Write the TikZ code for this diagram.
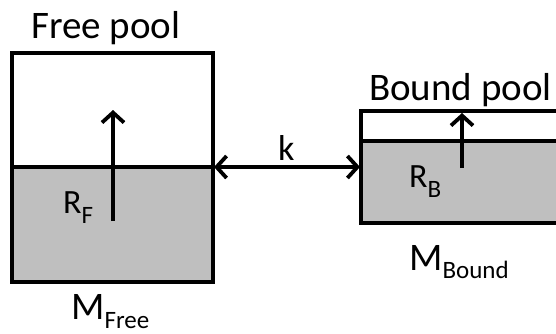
\documentclass[tikz,border=0pt]{standalone}
\usepackage{fontspec}
\setmainfont{Carlito}
\usetikzlibrary{arrows.meta}
\definecolor{poolgrey}{RGB}{191,191,191}
\tikzset{
  outline/.style={line width=3.8pt, line join=miter},
  flow/.style={line width=3.8pt, -{Straight Barb[length=10pt,width=22pt,line width=3.8pt]}},
  exch/.style={line width=3.8pt, {Straight Barb[length=10pt,width=22pt,line width=3.8pt]}-{Straight Barb[length=10pt,width=22pt,line width=3.8pt]}},
  lbl/.style={inner sep=0pt, anchor=base west},
}
\newcommand{\bigtxt}{\fontsize{39}{42}\selectfont}
\newcommand{\midtxt}{\fontsize{34}{36}\selectfont}
\newcommand{\subtxt}{\fontsize{25}{27}\selectfont}
\begin{document}
\begin{tikzpicture}[x=1pt,y=-1pt]
\useasboundingbox (0,0) rectangle (556,333);
\clip (0,0) rectangle (556,333);
% free pool box
\coordinate (fTL) at (12,53);
\coordinate (fBR) at (213,282);
\coordinate (fDivL) at (12,167);
\coordinate (fDivR) at (213,167);
\fill[poolgrey] (fDivL) rectangle (fBR);
\draw[outline] (fTL) rectangle (fBR);
\draw[outline] (fDivL) -- (fDivR);
% bound pool box
\coordinate (bTL) at (361,111);
\coordinate (bBR) at (570,223);
\coordinate (bDivL) at (361,141);
\coordinate (bDivR) at (570,141);
\fill[poolgrey] (bDivL) rectangle (bBR);
\draw[outline] (bTL) rectangle (bBR);
\draw[outline] (bDivL) -- (bDivR);
% arrows
\coordinate (rfS) at (113,221);
\coordinate (rfE) at (113,110);
\draw[flow] (rfS) -- (rfE);
\coordinate (rbS) at (462,168);
\coordinate (rbE) at (462,113);
\draw[flow] (rbS) -- (rbE);
\coordinate (kL) at (214,167);
\coordinate (kR) at (360,167);
\draw[exch] (kL) -- (kR);
% labels
\node[lbl] (freelbl) at (31,38) {\bigtxt Free pool};
\node[lbl] (boundlbl) at (369,100) {\bigtxt Bound pool};
\node[lbl] (klbl) at (278,160) {\fontsize{36}{38}\selectfont k};
\node[lbl] (rf) at (63,213) {\midtxt R\raisebox{-10pt}{\subtxt F}};
\node[lbl] (rb) at (409,187) {\midtxt R\raisebox{-10pt}{\subtxt B}};
\node[lbl] (mf) at (71,319) {\bigtxt M\raisebox{-9pt}{\fontsize{25}{27}\selectfont Free}};
\node[lbl] (mb) at (409,270) {\bigtxt M\raisebox{-8pt}{\fontsize{25}{27}\selectfont Bound}};
\end{tikzpicture}
\end{document}
